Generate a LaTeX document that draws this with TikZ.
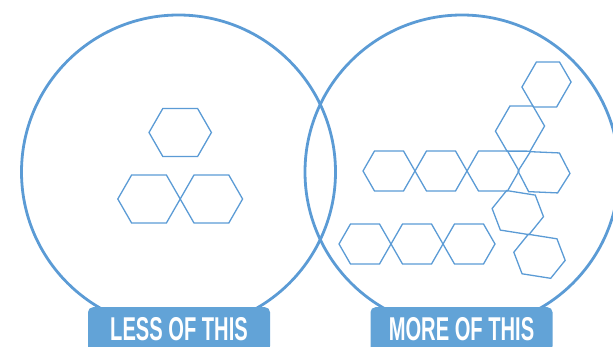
\documentclass[tikz,border=0pt]{standalone}
\usepackage{fontspec}
\newfontfamily\tagfont[FakeStretch=0.61]{Liberation Sans}
\definecolor{ringblue}{HTML}{5B9BD5}
\definecolor{tagblue}{HTML}{62A3D7}
\usetikzlibrary{positioning}

\begin{document}
\begin{tikzpicture}[
    x=1pt, y=-1pt,
    ring/.style={circle, draw=ringblue, line width=2.8pt, minimum size=314pt, inner sep=0pt},
    hexline/.style={draw=ringblue, line width=1.3pt, line join=miter},
    hexcell/.pic={\draw[hexline] (-26,0) -- (-14.5,-20) -- (14.5,-20) -- (26,0) -- (14.5,20) -- (-14.5,20) -- cycle;},
    tag/.style={rectangle, fill=tagblue, rounded corners=5pt, minimum width=182pt, minimum height=44pt, anchor=north, text=white, font=\tagfont\bfseries\fontsize{33}{34}\selectfont}
]
\clip (0,0) rectangle (613,347);
\node[ring] (less) at (178.5,172) {};
\node[ring] (more) at (462,172) {};
% few cells
\pic[scale=1.2] (l1) at (180.2,132.5) {hexcell};
\pic[scale=1.2] (l2) at (149,199) {hexcell};
\pic[scale=1.2] (l3) at (211.4,199) {hexcell};
% many cells
\pic (m1) at (389,171) {hexcell};
\pic (m2) at (441,171) {hexcell};
\pic (m3) at (493,171) {hexcell};
\pic[rotate=-2.5] (m4) at (544,172.3) {hexcell};
\pic[rotate=60] (m5) at (520,128.6) {hexcell};
\pic[rotate=60] (m6) at (546.5,84.5) {hexcell};
\pic[rotate=-9] (m7) at (517.8,212.6) {hexcell};
\pic[rotate=-9] (m8) at (539.5,256.3) {hexcell};
\pic (m9) at (365,244) {hexcell};
\pic (m10) at (417,244) {hexcell};
\pic (m11) at (469,244) {hexcell};
% labels
\node[tag] (lesstag) at (179,307) {LESS OF THIS};
\node[tag] (moretag) at (461.5,307) {MORE OF THIS};
\end{tikzpicture}
\end{document}
